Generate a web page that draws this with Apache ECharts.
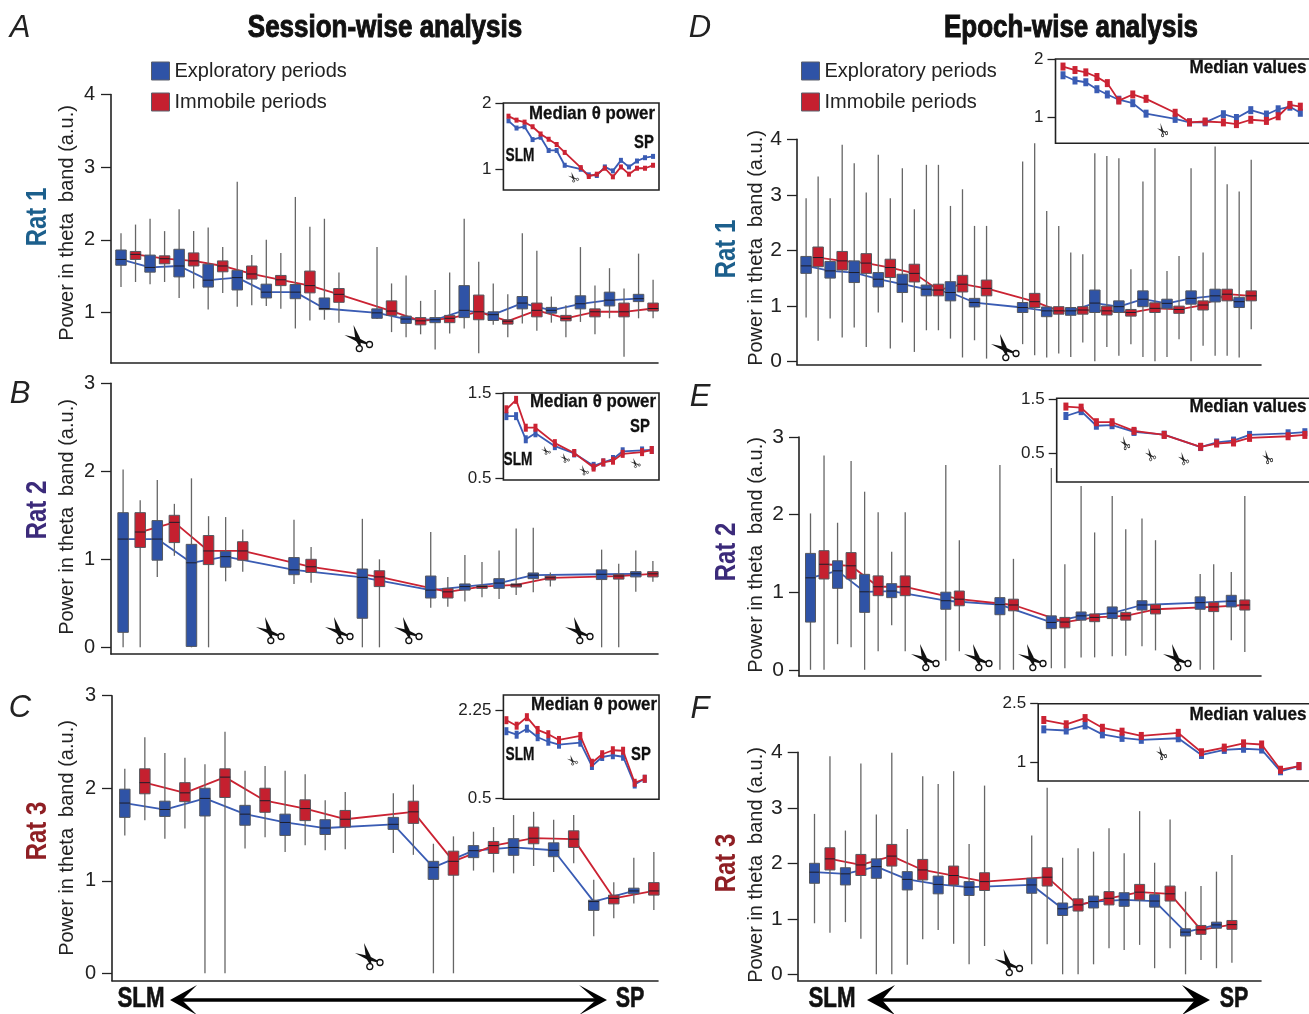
<!DOCTYPE html>
<html><head><meta charset="utf-8">
<style>html,body{margin:0;padding:0;background:#fff}#c{width:1309px;height:1014px}</style>
<script src="https://cdn.jsdelivr.net/npm/echarts@6/dist/echarts.min.js"></script>
</head><body><div id="c"></div>
<script>
// ---- values: each row is [low whisker, q1, median, q3, high whisker]
const posA=[0,2,4,6,8,10,12,14,17.62,19.62,21.62,23.62,25.62,27.62,29.62,31.62,33.62,35.62];
const exploreA=[[1.35,1.65,1.73,1.86,2.09],[1.39,1.555,1.62,1.79,2.29],[1.2,1.49,1.64,1.87,2.42],[1.04,1.35,1.445,1.665,2.17],[1.08,1.31,1.48,1.58,2.8],[1.09,1.2,1.28,1.39,2.0],[0.78,1.19,1.28,1.385,2.59],[0.9,1.04,1.055,1.2,2.29],[0.91,0.92,0.995,1.05,1.9],[0.66,0.85,0.91,0.95,1.51],[0.49,0.86,0.9,0.93,1.31],[0.78,0.93,1.03,1.37,2.29],[0.83,0.89,0.97,1.01,1.4],[0.85,1.05,1.13,1.22,2.09],[0.86,0.99,1.03,1.07,1.22],[0.87,1.05,1.12,1.23,1.9],[0.92,1.09,1.17,1.28,1.61],[0.92,1.15,1.19,1.25,1.81]];
const immobileA=[[1.42,1.73,1.8,1.84,2.21],[1.42,1.67,1.74,1.78,2.12],[1.33,1.64,1.71,1.82,2.12],[1.27,1.56,1.64,1.71,1.9],[1.1,1.46,1.53,1.64,1.79],[1.05,1.37,1.45,1.51,1.82],[0.89,1.27,1.37,1.57,2.18],[0.86,1.14,1.25,1.33,1.55],[0.73,0.96,1.02,1.16,1.4],[0.7,0.83,0.885,0.93,1.16],[0.71,0.86,0.92,0.96,1.55],[0.44,0.9,1.01,1.24,1.7],[0.66,0.84,0.88,0.9,1.25],[0.75,0.94,1.03,1.13,1.85],[0.66,0.885,0.92,0.96,1.1],[0.7,0.94,1.01,1.05,1.37],[0.39,0.94,1.01,1.13,1.33],[0.92,1.02,1.055,1.13,1.45]];
const insetPosA=[0,1,2,3,4,5,6,7,9,10,11,12,13,14,15,16,17,18];

const posB=[0,2,4,6,10,14,18,20,22,24,28,30];
const exploreB=[[0,0.17,1.23,1.53,2.02],[0.8,0.99,1.23,1.44,1.9],[0,0.01,0.96,1.17,1.92],[0.75,0.91,1.03,1.09,1.48],[0.72,0.825,0.88,1.02,1.45],[0,0.33,0.795,0.89,1.46],[0.45,0.56,0.65,0.81,1.31],[0.52,0.65,0.69,0.72,1.05],[0.55,0.67,0.73,0.78,1.1],[0.625,0.78,0.82,0.845,1.36],[0,0.77,0.83,0.88,1.11],[0.63,0.8,0.835,0.86,1.1]];
const immobileB=[[0,1.135,1.31,1.53,1.67],[1.04,1.19,1.42,1.5,1.63],[0,0.94,1.095,1.27,1.49],[0.86,0.99,1.095,1.2,1.34],[0.735,0.85,0.915,1,1.14],[0,0.69,0.8,0.87,1],[0.46,0.56,0.63,0.67,0.8],[0.57,0.67,0.69,0.7,0.97],[0.595,0.685,0.71,0.72,1.35],[0.69,0.765,0.79,0.81,0.85],[0,0.775,0.81,0.83,0.95],[0.745,0.8,0.835,0.86,0.98]];
const insetPosB=[0,1,2,3,5,7,9,10,11,12,14,15];

const posC=[0,2,4,6,8,10,13.4,15.4,17.4,19.4,21.4,23.4,25.4];
const exploreC=[[1.49,1.685,1.84,1.99,2.21],[1.455,1.695,1.77,1.86,2.38],[0,1.7,1.89,2,2.26],[1.35,1.6,1.72,1.815,2.19],[1.31,1.49,1.63,1.72,2.19],[1.33,1.5,1.57,1.66,1.87],[1.3,1.555,1.61,1.685,1.945],[0,1.015,1.145,1.21,1.4],[1.11,1.25,1.325,1.38,1.53],[1.08,1.275,1.36,1.455,1.71],[1.095,1.26,1.33,1.41,1.66],[0.4,0.68,0.775,0.79,1.01],[0.755,0.86,0.89,0.92,1.25]];
const immobileC=[[1.655,1.94,2.06,2.21,2.55],[1.565,1.855,1.95,2.06,2.33],[0,1.9,2.12,2.21,2.61],[1.47,1.74,1.865,2,2.24],[1.385,1.65,1.78,1.875,2.15],[1.34,1.58,1.665,1.76,1.96],[1.28,1.62,1.745,1.86,2.04],[0,1.06,1.21,1.32,1.48],[1.09,1.295,1.38,1.425,1.58],[1.16,1.4,1.46,1.58,1.745],[1.19,1.36,1.45,1.54,1.71],[0.595,0.75,0.81,0.845,0.985],[0.685,0.845,0.89,0.98,1.31]];
const insetPosC=[0,0.97,1.94,2.96,3.97,4.98,7,8.1,9.07,10.08,11.05,12.15,13.1];

const posD=[0,2,4,6,8,10,12,14,18,20,22,24,26,28,30,32,34,36];
const exploreD=[[0.79,1.585,1.72,1.89,2.94],[0.77,1.5,1.63,1.8,2.94],[0.61,1.42,1.6,1.81,3.57],[0.88,1.34,1.48,1.6,3.72],[0.7,1.24,1.39,1.57,3.48],[0.56,1.18,1.3,1.375,3.54],[0.41,1.09,1.24,1.435,2.8],[0.38,0.98,1.06,1.135,2.44],[0.31,0.88,0.97,1.06,3.6],[0.07,0.805,0.91,0.98,2.71],[0.08,0.83,0.91,0.97,1.96],[0,0.88,1.05,1.285,3.75],[0.1,0.88,0.985,1.09,3.66],[0.08,0.985,1.12,1.27,3.24],[0.08,0.955,1.045,1.12,1.63],[0,1.03,1.135,1.27,3.48],[0.1,1.07,1.18,1.3,3.87],[0.07,0.97,1.075,1.155,3.06]];
const immobileD=[[0.37,1.705,1.87,2.06,3.33],[0.43,1.645,1.81,1.98,3.9],[0.26,1.585,1.77,1.94,3.04],[0.23,1.51,1.69,1.84,2.94],[0.17,1.43,1.585,1.75,2.74],[0.56,1.18,1.285,1.39,3.54],[0.07,1.25,1.39,1.55,3.1],[0.05,1.18,1.315,1.465,2.44],[0.11,0.97,1.075,1.225,3.93],[0.14,0.85,0.91,0.985,2.44],[0.34,0.85,0.925,0.985,1.93],[0.26,0.835,0.91,0.995,3.7],[0.31,0.815,0.88,0.935,1.66],[0,0.88,0.955,1.055,3.84],[0.4,0.865,0.935,0.995,1.9],[0.28,0.925,1.015,1.09,1.96],[0.1,1.09,1.21,1.3,3.19],[0.58,1.09,1.18,1.27,3.63]];
const insetPosD=[0,0.92,1.75,2.6,3.4,4.28,5.35,6.37,8.6,9.7,10.9,12.3,13.3,14.4,15.6,16.5,17.4,18.2];

const posE=[0,2,4,6,10,14,17.8,20,22.3,24.5,28.8,31.1];
const exploreE=[[0,0.615,1.185,1.5,2.015],[0.33,1.05,1.275,1.405,1.895],[0,0.74,1.005,1.23,2.295],[0.575,0.93,1.015,1.11,1.52],[0.115,0.78,0.89,1,2.64],[0,0.71,0.84,0.93,2.64],[0.02,0.53,0.61,0.695,2.6],[0.16,0.64,0.695,0.745,2.37],[0.175,0.66,0.73,0.81,2.24],[0.305,0.77,0.835,0.89,1.95],[0,0.78,0.865,0.94,1.235],[0.38,0.81,0.885,0.96,1.26]];
const immobileE=[[0,1.17,1.36,1.535,2.76],[0.29,1.17,1.34,1.51,2.69],[0.24,0.955,1.07,1.21,2.03],[0.24,0.955,1.07,1.21,2.03],[0.24,0.825,0.91,1.015,1.67],[0,0.76,0.835,0.91,1.43],[0.02,0.54,0.615,0.675,1.36],[0.16,0.62,0.675,0.72,1.77],[0.18,0.64,0.695,0.74,1.81],[0.25,0.72,0.78,0.84,1.67],[0,0.75,0.81,0.87,1.36],[0.23,0.77,0.835,0.9,2.24]];
const insetPosE=[0,1,2,3.03,4.47,6.45,8.84,9.89,11,12.05,14.58,15.68];

const posF=[0,2,4,6,8,10,14.05,16.05,18.05,20.03,22,24,26];
const exploreF=[[0.92,1.64,1.84,2,2.89],[0.94,1.61,1.81,1.92,2.59],[0,1.73,1.94,2.08,2.88],[0.17,1.52,1.71,1.85,2.62],[0.8,1.45,1.62,1.77,3.43],[0.18,1.42,1.57,1.67,2.35],[0.18,1.46,1.61,1.73,2.5],[0,1.06,1.18,1.285,2.1],[0.18,1.195,1.31,1.41,2.21],[0.44,1.225,1.34,1.47,2.18],[0.11,1.21,1.32,1.435,2.01],[0,0.69,0.76,0.82,1.49],[0.11,0.83,0.89,0.94,1.85]];
const immobileF=[[0.75,1.88,2.08,2.28,3.93],[0.64,1.78,1.97,2.16,3.8],[0,1.95,2.13,2.34,3.99],[0.63,1.7,1.88,2.07,3.57],[0.55,1.61,1.78,1.95,3.66],[0.51,1.51,1.67,1.83,3.4],[0.54,1.59,1.75,1.92,3.36],[0,1.14,1.25,1.36,2.27],[0.47,1.25,1.37,1.49,2.63],[0.53,1.34,1.48,1.62,2.94],[0.47,1.32,1.45,1.59,2.79],[0.26,0.72,0.8,0.88,1.59],[0.21,0.81,0.895,0.97,2.15]];
const insetPosF=[0,1.14,2.1,2.98,3.98,4.96,6.84,8.02,9.18,10.16,11.08,12.04,12.98];

const nameExplore='Exploratory periods', nameImmobile='Immobile periods';
const insetTitleSession='Median θ power', insetTitleEpoch='Median values';

// ---- layout
const BLUE='#2f53a6',RED='#c5202f',BLUEL='#3a5cb4',REDL='#cb2333',INK='#222',GREY='#666';
const SANS='"Liberation Sans",Arial,sans-serif';
const panels=[
 {pos:posA,ex:exploreA,im:immobileA,ip:insetPosA,L:111,R:658,T:94.5,B:363,yMin:.305,yMax:4,ticks:[1,2,3,4],x0:121,step:14.53,bw:10.5,fs:20,mg:16,
  inset:{L:503.4,R:659,T:103,B:190,yMin:.68,yMax:2,ticks:[1,2],x0:508.5,step:8.03,sym:[4,5]}},
 {pos:posB,ex:exploreB,im:immobileB,ip:insetPosB,L:111,R:658,T:383.3,B:654,yMin:-.076,yMax:3,ticks:[0,1,2,3],x0:123.1,step:17.09,bw:10.5,fs:20,mg:16,
  inset:{L:503.4,R:659,T:393,B:480,yMin:.485,yMax:1.5,ticks:[.5,1.5],x0:506.4,step:9.69,sym:[4,8]}},
 {pos:posC,ex:exploreC,im:immobileC,ip:insetPosC,L:112,R:658,T:695.7,B:980.7,yMin:-.08,yMax:3,ticks:[0,1,2,3],x0:124.8,step:20.04,bw:10.5,fs:20,mg:16,
  inset:{L:503.4,R:659,T:695,B:799.3,yMin:.48,yMax:2.563,ticks:[.5,2.25],x0:506.4,step:10.56,sym:[4,8]}},
 {pos:posD,ex:exploreD,im:immobileD,ip:insetPosD,L:797,R:1261,T:139.3,B:364.7,yMin:-.06,yMax:4,ticks:[0,1,2,3,4],x0:806.1,step:12.03,bw:10.5,fs:21,mg:15,
  inset:{L:1055.5,R:1400,T:59,B:143.3,yMin:.55,yMax:2,ticks:[1,2],x0:1063,step:13.04,sym:[5,8]}},
 {pos:posE,ex:exploreE,im:immobileE,ip:insetPosE,L:799,R:1261,T:437,B:676,yMin:-.08,yMax:3,ticks:[0,1,2,3],x0:810.5,step:13.53,bw:10,fs:21,mg:15,
  inset:{L:1056.7,R:1400,T:398.3,B:482,yMin:-.037,yMax:1.513,ticks:[.5,1.5],x0:1065.9,step:15.24,sym:[5,8]}},
 {pos:posF,ex:exploreF,im:immobileF,ip:insetPosF,L:797.7,R:1261,T:752.3,B:980.3,yMin:-.108,yMax:4,ticks:[0,1,2,3,4],x0:814.5,step:15.46,bw:10,fs:21,mg:15,
  inset:{L:1038.2,R:1400,T:703.7,B:781,yMin:.51,yMax:2.5,ticks:[1,2.5],x0:1043.8,step:19.66,sym:[5,8]}}
];

const grid=[],xAxis=[],yAxis=[],series=[];
function addAxes(a,isInset,fs,mg){
  const g=grid.length;
  grid.push({left:a.L,top:a.T,width:a.R-a.L,height:a.B-a.T,containLabel:false,outerBoundsMode:'none',
    show:isInset,borderColor:isInset?'#222':'transparent',borderWidth:isInset?1.6:0,backgroundColor:'transparent'});
  xAxis.push({type:'value',gridIndex:g,min:(a.L-a.x0)/a.step,max:(a.R-a.x0)/a.step,show:!isInset,splitLine:{show:false},
    axisLine:{show:true,onZero:false,lineStyle:{color:INK,width:1.6}},axisTick:{show:false},axisLabel:{show:false}});
  yAxis.push({type:'value',gridIndex:g,min:a.yMin,max:a.yMax,splitLine:{show:false},
    axisLine:{show:!isInset,onZero:false,lineStyle:{color:INK,width:1.6}},
    axisTick:{show:true,length:isInset?8:10,customValues:a.ticks,lineStyle:{color:INK,width:1.3}},
    axisLabel:{show:true,customValues:a.ticks,margin:isInset?12:mg,color:INK,fontFamily:SANS,fontSize:isInset?17:fs,hideOverlap:false,showMinLabel:true,showMaxLabel:true}});
  return g;
}
function boxRender(width,fill){
  return function(params,api){
    const x=api.value(0),lo=api.coord([x,api.value(1)]),q1=api.coord([x,api.value(2)]),
      md=api.coord([x,api.value(3)]),q3=api.coord([x,api.value(4)]),hi=api.coord([x,api.value(5)]);
    const l=lo[0]-width/2;
    return {type:'group',children:[
      {type:'line',shape:{x1:lo[0],y1:lo[1],x2:hi[0],y2:hi[1]},style:{stroke:GREY,lineWidth:1.3}},
      {type:'rect',shape:{x:l,y:q3[1],width:width,height:q1[1]-q3[1]},style:{fill:fill,stroke:'#55585f',lineWidth:1}},
      {type:'line',shape:{x1:l,y1:md[1],x2:l+width,y2:md[1]},style:{stroke:'#1d1d2a',lineWidth:1}}
    ]};
  };
}
panels.forEach(p=>{
  const g=addAxes(p,false,p.fs,p.mg), ig=addAxes(p.inset,true);
  const rows=(pos,arr,d)=>arr.map((r,i)=>[pos[i]+d,...r]);
  [[p.ex,0,BLUE,BLUEL,nameExplore],[p.im,1,RED,REDL,nameImmobile]].forEach(([arr,d,fill,line,name])=>{
    series.push({type:'custom',name,xAxisIndex:g,yAxisIndex:g,z:3,clip:false,silent:true,
      itemStyle:{color:fill},encode:{x:0,y:[1,2,3,4,5]},renderItem:boxRender(p.bw,fill),data:rows(p.pos,arr,d)});
    series.push({type:'line',name,xAxisIndex:g,yAxisIndex:g,z:2,silent:true,showSymbol:false,symbol:'none',
      itemStyle:{color:fill},lineStyle:{color:line,width:1.8},data:arr.map((r,i)=>[p.pos[i]+d,r[2]])});
    series.push({type:'line',name,xAxisIndex:ig,yAxisIndex:ig,z:4+d,silent:true,symbol:'rect',symbolSize:p.inset.sym,
      itemStyle:{color:line},lineStyle:{color:line,width:1.8},data:arr.map((r,i)=>[p.ip[i],r[2]])});
  });
});

// ---- free text and annotation glyphs
const graphic=[];
function text(t,x,y,font,fill,o){
  o=o||{};
  graphic.push({type:'text',x,y,silent:true,z:20,rotation:o.rot?Math.PI/2:0,scaleX:o.sx||1,
    style:{text:t,font,fill:fill||INK,align:'center',verticalAlign:'middle',stroke:o.s?fill:'transparent',lineWidth:o.s||0}});
}
text('Session-wise analysis',385,28,'bold 31px '+SANS,'#111',{sx:.838,s:1});
text('Epoch-wise analysis',1071,28,'bold 31px '+SANS,'#111',{sx:.838,s:1});
[['A',20,28],['B',20,394],['C',20,708],['D',700,28],['E',700,397],['F',700,709]].forEach(a=>text(a[0],a[1],a[2],'italic 31px '+SANS,'#222'));
[[67,223],[67,517],[67,838],[756.5,248],[756.5,555],[756.5,865]].forEach(a=>text('Power in theta  band (a.u.)',a[0],a[1],'20px '+SANS,'#222',{rot:1}));
[['Rat 1',38,217,'#1c5f8c'],['Rat 2',38,510,'#3b2a7a'],['Rat 3',38,831,'#8f1f24'],['Rat 1',727,249,'#1c5f8c'],['Rat 2',727,552,'#3b2a7a'],['Rat 3',727,863,'#8f1f24']]
  .forEach(a=>text(a[0],a[1],a[2],'bold 30px '+SANS,a[3],{rot:1,sx:.8}));
const inF='bold 19px '+SANS;
[[insetTitleSession,592,114,.885],['SLM',520,156,.72],['SP',644,143,.78],[insetTitleSession,593,402,.885],['SP',640,427,.78],['SLM',518,460,.72],
 [insetTitleSession,594,705,.885],['SLM',520,755,.72],['SP',641,755,.78],[insetTitleEpoch,1248,68,.9],[insetTitleEpoch,1248,407,.9],[insetTitleEpoch,1248,715,.9]]
 .forEach(a=>text(a[0],a[1],a[2],inF,'#111',{sx:a[3],s:.3}));
[['SLM',141,999,.77],['SP',630,999,.74],['SLM',832,999,.77],['SP',1234,999,.74]].forEach(a=>text(a[0],a[1],a[2],'bold 29px '+SANS,'#111',{sx:a[3],s:.6}));

function arrow(tl,bl,nl,tr,br,nr){
  const y=1000;
  graphic.push({type:'line',silent:true,z:20,shape:{x1:nl,y1:y,x2:nr,y2:y},style:{stroke:'#000',lineWidth:3.6}});
  graphic.push({type:'polygon',silent:true,z:20,shape:{points:[[tl,y],[bl,y-15],[nl,y],[bl,y+15]]},style:{fill:'#000'}});
  graphic.push({type:'polygon',silent:true,z:20,shape:{points:[[tr,y],[br,y-15],[nr,y],[br,y+15]]},style:{fill:'#000'}});
}
arrow(170,197,182,607,579,596);
arrow(867,895,882,1210,1182,1195);

function scissors(x,y,sx,sy,col,lw){
  graphic.push({type:'group',silent:true,z:21,x,y,scaleX:sx,scaleY:sy,children:[
    {type:'polygon',shape:{points:[[0,10],[14,13],[22.5,17.5],[21.5,19.2],[13,17]]},style:{fill:col}},
    {type:'polygon',shape:{points:[[9,0],[15.5,13],[16.5,21],[14.6,21],[11,15]]},style:{fill:col}},
    {type:'circle',shape:{cx:25,cy:19.5,r:3},style:{fill:'none',stroke:col,lineWidth:lw}},
    {type:'circle',shape:{cx:14.8,cy:23.6,r:3},style:{fill:'none',stroke:col,lineWidth:lw}}
  ]});
}
[[344.5,325],[256,617],[325,617],[394,617],[565,617],[355,943],[991,334],[911,644],[964,644],[1018,644],[1163,644],[994.5,949]]
  .forEach(a=>scissors(a[0],a[1],1,1,'#111',1.3));
[[568,172,.38,.38],[541,446,.34,.32],[560,453,.34,.36],[579,465,.34,.38],[630,458,.37,.36],[567,755,.38,.38],
 [1157,123,.38,.52],[1120,436,.35,.52],[1145,448,.38,.48],[1178,452,.38,.48],[1262,450,.38,.52],[1156,746,.38,.52]]
  .forEach(a=>scissors(a[0],a[1],a[2],a[3],'#2a2a2a',2));

const legendBase={orient:'vertical',top:61,padding:0,itemWidth:18,itemHeight:18,itemGap:11,selectedMode:false,icon:'rect',
  itemStyle:{borderColor:'#5a5f6a',borderWidth:1},data:[nameExplore,nameImmobile],
  textStyle:{fontFamily:SANS,fontSize:20,color:'#222',lineHeight:18}};
const option={animation:false,backgroundColor:'#fff',grid,xAxis,yAxis,series,graphic,
  legend:[Object.assign({left:151},legendBase),Object.assign({left:801},legendBase)]};
echarts.init(document.getElementById('c'),null,{renderer:'canvas'}).setOption(option);
</script>
</body></html>
